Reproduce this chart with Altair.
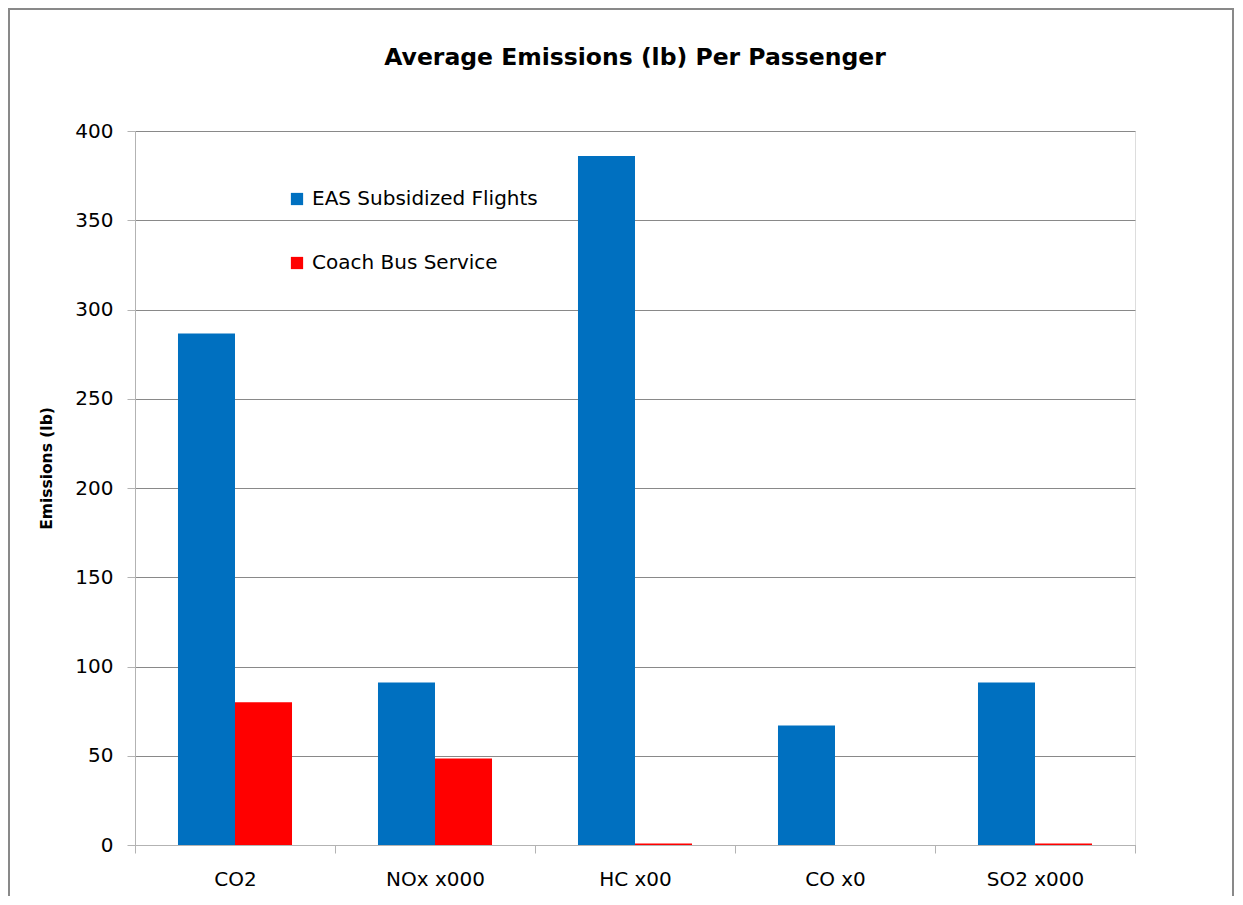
import altair as alt
import pandas as pd

categories = ["CO2", "NOx x000", "HC x00", "CO x0", "SO2 x000"]
series = ["EAS Subsidized Flights", "Coach Bus Service"]
eas_values = [286.5, 91, 386, 67, 91]
bus_values = [80, 48.5, 0.8, 0, 0.8]
y_ticks = [0, 50, 100, 150, 200, 250, 300, 350, 400]
colors = ["#0070C0", "#FF0000"]

rows = []
for c, a, b in zip(categories, eas_values, bus_values):
    rows.append({"category": c, "series": series[0], "value": a})
    rows.append({"category": c, "series": series[1], "value": b})
df = pd.DataFrame(rows)

FONT = "DejaVu Sans"

bars = alt.Chart(df).mark_bar().encode(
    x=alt.X(
        "category:N",
        sort=categories,
        scale=alt.Scale(paddingInner=0, paddingOuter=0),
        axis=alt.Axis(
            title=None,
            labelAngle=0,
            tickBand="extent",
            labelFontSize=20,
            labelFont=FONT,
            labelColor="#000000",
            labelPadding=16,
            tickSize=8,
            tickColor="#B3B3B3",
            domainColor="#B3B3B3",
            grid=False,
        ),
    ),
    xOffset=alt.XOffset(
        "series:N",
        sort=series,
        scale=alt.Scale(paddingInner=0, paddingOuter=0.754),
    ),
    y=alt.Y(
        "value:Q",
        scale=alt.Scale(domain=[0, 400], nice=False),
        axis=alt.Axis(
            title="Emissions (lb)",
            values=y_ticks,
            titleFont=FONT,
            titleFontSize=15.5,
            titleFontWeight="bold",
            titleColor="#000000",
            titlePadding=20,
            titleY=337,
            labelFont=FONT,
            labelFontSize=20,
            labelColor="#000000",
            labelPadding=14,
            tickSize=8,
            tickColor="#B3B3B3",
            domainColor="#B3B3B3",
            gridColor="#898989",
            gridWidth=1,
        ),
    ),
    color=alt.Color(
        "series:N",
        sort=series,
        scale=alt.Scale(domain=series, range=colors),
        legend=alt.Legend(
            title=None,
            orient="none",
            legendX=152,
            legendY=58,
            symbolType="square",
            symbolSize=150,
            symbolStrokeWidth=0,
            labelFont=FONT,
            labelFontSize=20,
            labelColor="#000000",
            labelOffset=5,
            labelLimit=400,
            rowPadding=44,
        ),
    ),
)

frame_df = pd.DataFrame({"k": [0]})
frame = alt.Chart(frame_df).mark_rect(
    fill="transparent", stroke="#898989", strokeWidth=2
).encode(
    x=alt.value(-126), x2=alt.value(1098), y=alt.value(-122), y2=alt.value(800)
)

chart = alt.layer(frame, bars).properties(
    width=1000,
    height=714,
    autosize=alt.AutoSizeParams(type="none"),
    padding={"left": 127, "top": 123, "right": 99, "bottom": 51},
    title=alt.TitleParams(
        "Average Emissions (lb) Per Passenger",
        font=FONT,
        fontSize=23.5,
        fontWeight="bold",
        color="#000000",
        anchor="middle",
        baseline="alphabetic",
        offset=-80,
    ),
).configure_view(stroke=None).configure(background="white")

chart.save("out.html", embed_options={"renderer": "svg", "actions": False})
